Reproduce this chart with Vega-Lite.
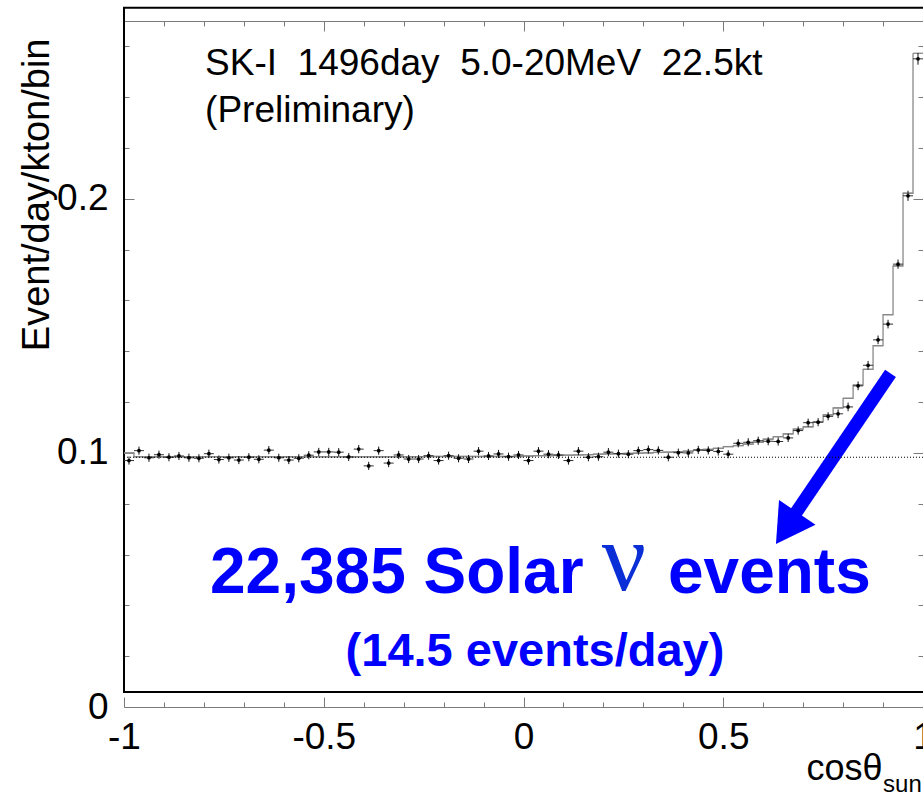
{
  "$schema": "https://vega.github.io/schema/vega-lite/v6.json",
  "width": 799,
  "height": 686,
  "autosize": {"type": "none"},
  "padding": {"left": 124, "top": 21, "right": 0, "bottom": 86},
  "background": "white",
  "config": {
    "view": {"stroke": null},
    "font": "Liberation Sans",
    "axis": {"grid": false, "labelFont": "Liberation Sans", "titleFont": "Liberation Sans", "labelOverlap": false, "labelBound": false, "labelFlush": false}
  },
  "data": {
    "values": [
      {"c": -0.9875, "lo": -1, "hi": -0.975, "rate": 0.0970, "err": 0.0016, "mc": 0.1000},
      {"c": -0.9625, "lo": -0.975, "hi": -0.95, "rate": 0.1009, "err": 0.0016, "mc": 0.0985},
      {"c": -0.9375, "lo": -0.95, "hi": -0.925, "rate": 0.0981, "err": 0.0016, "mc": 0.0985},
      {"c": -0.9125, "lo": -0.925, "hi": -0.9, "rate": 0.0993, "err": 0.0016, "mc": 0.0985},
      {"c": -0.8875, "lo": -0.9, "hi": -0.875, "rate": 0.0983, "err": 0.0016, "mc": 0.0985},
      {"c": -0.8625, "lo": -0.875, "hi": -0.85, "rate": 0.0988, "err": 0.0016, "mc": 0.0985},
      {"c": -0.8375, "lo": -0.85, "hi": -0.825, "rate": 0.0981, "err": 0.0016, "mc": 0.0985},
      {"c": -0.8125, "lo": -0.825, "hi": -0.8, "rate": 0.0979, "err": 0.0016, "mc": 0.0985},
      {"c": -0.7875, "lo": -0.8, "hi": -0.775, "rate": 0.0997, "err": 0.0016, "mc": 0.0985},
      {"c": -0.7625, "lo": -0.775, "hi": -0.75, "rate": 0.0974, "err": 0.0016, "mc": 0.0985},
      {"c": -0.7375, "lo": -0.75, "hi": -0.725, "rate": 0.0981, "err": 0.0016, "mc": 0.0985},
      {"c": -0.7125, "lo": -0.725, "hi": -0.7, "rate": 0.0972, "err": 0.0016, "mc": 0.0985},
      {"c": -0.6875, "lo": -0.7, "hi": -0.675, "rate": 0.0983, "err": 0.0016, "mc": 0.0985},
      {"c": -0.6625, "lo": -0.675, "hi": -0.65, "rate": 0.0975, "err": 0.0016, "mc": 0.0985},
      {"c": -0.6375, "lo": -0.65, "hi": -0.625, "rate": 0.1011, "err": 0.0016, "mc": 0.0985},
      {"c": -0.6125, "lo": -0.625, "hi": -0.6, "rate": 0.0981, "err": 0.0016, "mc": 0.0985},
      {"c": -0.5875, "lo": -0.6, "hi": -0.575, "rate": 0.0972, "err": 0.0016, "mc": 0.0985},
      {"c": -0.5625, "lo": -0.575, "hi": -0.55, "rate": 0.0979, "err": 0.0016, "mc": 0.0985},
      {"c": -0.5375, "lo": -0.55, "hi": -0.525, "rate": 0.0991, "err": 0.0016, "mc": 0.0985},
      {"c": -0.5125, "lo": -0.525, "hi": -0.5, "rate": 0.1004, "err": 0.0016, "mc": 0.0985},
      {"c": -0.4875, "lo": -0.5, "hi": -0.475, "rate": 0.1004, "err": 0.0016, "mc": 0.0985},
      {"c": -0.4625, "lo": -0.475, "hi": -0.45, "rate": 0.1003, "err": 0.0016, "mc": 0.0985},
      {"c": -0.4375, "lo": -0.45, "hi": -0.425, "rate": 0.0984, "err": 0.0016, "mc": 0.0985},
      {"c": -0.4125, "lo": -0.425, "hi": -0.4, "rate": 0.1015, "err": 0.0016, "mc": 0.0985},
      {"c": -0.3875, "lo": -0.4, "hi": -0.375, "rate": 0.0949, "err": 0.0016, "mc": 0.0985},
      {"c": -0.3625, "lo": -0.375, "hi": -0.35, "rate": 0.1009, "err": 0.0016, "mc": 0.0985},
      {"c": -0.3375, "lo": -0.35, "hi": -0.325, "rate": 0.0960, "err": 0.0016, "mc": 0.0985},
      {"c": -0.3125, "lo": -0.325, "hi": -0.3, "rate": 0.0992, "err": 0.0016, "mc": 0.0985},
      {"c": -0.2875, "lo": -0.3, "hi": -0.275, "rate": 0.0976, "err": 0.0016, "mc": 0.0985},
      {"c": -0.2625, "lo": -0.275, "hi": -0.25, "rate": 0.0976, "err": 0.0016, "mc": 0.0985},
      {"c": -0.2375, "lo": -0.25, "hi": -0.225, "rate": 0.0989, "err": 0.0016, "mc": 0.0986},
      {"c": -0.2125, "lo": -0.225, "hi": -0.2, "rate": 0.0970, "err": 0.0016, "mc": 0.0986},
      {"c": -0.1875, "lo": -0.2, "hi": -0.175, "rate": 0.0989, "err": 0.0016, "mc": 0.0986},
      {"c": -0.1625, "lo": -0.175, "hi": -0.15, "rate": 0.0979, "err": 0.0016, "mc": 0.0986},
      {"c": -0.1375, "lo": -0.15, "hi": -0.125, "rate": 0.0976, "err": 0.0016, "mc": 0.0986},
      {"c": -0.1125, "lo": -0.125, "hi": -0.1, "rate": 0.1007, "err": 0.0016, "mc": 0.0986},
      {"c": -0.0875, "lo": -0.1, "hi": -0.075, "rate": 0.0988, "err": 0.0016, "mc": 0.0986},
      {"c": -0.0625, "lo": -0.075, "hi": -0.05, "rate": 0.0996, "err": 0.0016, "mc": 0.0986},
      {"c": -0.0375, "lo": -0.05, "hi": -0.025, "rate": 0.0985, "err": 0.0016, "mc": 0.0986},
      {"c": -0.0125, "lo": -0.025, "hi": 0, "rate": 0.0992, "err": 0.0016, "mc": 0.0986},
      {"c": 0.0125, "lo": 0, "hi": 0.025, "rate": 0.0970, "err": 0.0016, "mc": 0.0988},
      {"c": 0.0375, "lo": 0.025, "hi": 0.05, "rate": 0.1007, "err": 0.0016, "mc": 0.0989},
      {"c": 0.0625, "lo": 0.05, "hi": 0.075, "rate": 0.0995, "err": 0.0016, "mc": 0.0989},
      {"c": 0.0875, "lo": 0.075, "hi": 0.1, "rate": 0.0992, "err": 0.0016, "mc": 0.0990},
      {"c": 0.1125, "lo": 0.1, "hi": 0.125, "rate": 0.0970, "err": 0.0016, "mc": 0.0991},
      {"c": 0.1375, "lo": 0.125, "hi": 0.15, "rate": 0.1007, "err": 0.0016, "mc": 0.0992},
      {"c": 0.1625, "lo": 0.15, "hi": 0.175, "rate": 0.0983, "err": 0.0016, "mc": 0.0993},
      {"c": 0.1875, "lo": 0.175, "hi": 0.2, "rate": 0.0985, "err": 0.0016, "mc": 0.0995},
      {"c": 0.2125, "lo": 0.2, "hi": 0.225, "rate": 0.1003, "err": 0.0016, "mc": 0.0996},
      {"c": 0.2375, "lo": 0.225, "hi": 0.25, "rate": 0.0997, "err": 0.0016, "mc": 0.0997},
      {"c": 0.2625, "lo": 0.25, "hi": 0.275, "rate": 0.0995, "err": 0.0016, "mc": 0.0998},
      {"c": 0.2875, "lo": 0.275, "hi": 0.3, "rate": 0.1009, "err": 0.0016, "mc": 0.0999},
      {"c": 0.3125, "lo": 0.3, "hi": 0.325, "rate": 0.1013, "err": 0.0016, "mc": 0.1000},
      {"c": 0.3375, "lo": 0.325, "hi": 0.35, "rate": 0.1010, "err": 0.0016, "mc": 0.1002},
      {"c": 0.3625, "lo": 0.35, "hi": 0.375, "rate": 0.0983, "err": 0.0016, "mc": 0.1003},
      {"c": 0.3875, "lo": 0.375, "hi": 0.4, "rate": 0.1001, "err": 0.0016, "mc": 0.1005},
      {"c": 0.4125, "lo": 0.4, "hi": 0.425, "rate": 0.1000, "err": 0.0016, "mc": 0.1007},
      {"c": 0.4375, "lo": 0.425, "hi": 0.45, "rate": 0.1012, "err": 0.0016, "mc": 0.1010},
      {"c": 0.4625, "lo": 0.45, "hi": 0.475, "rate": 0.1010, "err": 0.0016, "mc": 0.1014},
      {"c": 0.4875, "lo": 0.475, "hi": 0.5, "rate": 0.1006, "err": 0.0016, "mc": 0.1018},
      {"c": 0.5125, "lo": 0.5, "hi": 0.525, "rate": 0.0995, "err": 0.0016, "mc": 0.1025},
      {"c": 0.5375, "lo": 0.525, "hi": 0.55, "rate": 0.1038, "err": 0.0016, "mc": 0.1029},
      {"c": 0.5625, "lo": 0.55, "hi": 0.575, "rate": 0.1042, "err": 0.0016, "mc": 0.1035},
      {"c": 0.5875, "lo": 0.575, "hi": 0.6, "rate": 0.1048, "err": 0.0016, "mc": 0.1042},
      {"c": 0.6125, "lo": 0.6, "hi": 0.625, "rate": 0.1046, "err": 0.0016, "mc": 0.1054},
      {"c": 0.6375, "lo": 0.625, "hi": 0.65, "rate": 0.1045, "err": 0.0016, "mc": 0.1064},
      {"c": 0.6625, "lo": 0.65, "hi": 0.675, "rate": 0.1059, "err": 0.0016, "mc": 0.1075},
      {"c": 0.6875, "lo": 0.675, "hi": 0.7, "rate": 0.1088, "err": 0.0016, "mc": 0.1094},
      {"c": 0.7125, "lo": 0.7, "hi": 0.725, "rate": 0.1119, "err": 0.0016, "mc": 0.1103},
      {"c": 0.7375, "lo": 0.725, "hi": 0.75, "rate": 0.1121, "err": 0.0016, "mc": 0.1122},
      {"c": 0.7625, "lo": 0.75, "hi": 0.775, "rate": 0.1144, "err": 0.0016, "mc": 0.1150},
      {"c": 0.7875, "lo": 0.775, "hi": 0.8, "rate": 0.1154, "err": 0.0017, "mc": 0.1177},
      {"c": 0.8125, "lo": 0.8, "hi": 0.825, "rate": 0.1181, "err": 0.0017, "mc": 0.1215},
      {"c": 0.8375, "lo": 0.825, "hi": 0.85, "rate": 0.1264, "err": 0.0017, "mc": 0.1267},
      {"c": 0.8625, "lo": 0.85, "hi": 0.875, "rate": 0.1345, "err": 0.0017, "mc": 0.1329},
      {"c": 0.8875, "lo": 0.875, "hi": 0.9, "rate": 0.1445, "err": 0.0017, "mc": 0.1422},
      {"c": 0.9125, "lo": 0.9, "hi": 0.925, "rate": 0.1507, "err": 0.0017, "mc": 0.1544},
      {"c": 0.9375, "lo": 0.925, "hi": 0.95, "rate": 0.1743, "err": 0.0018, "mc": 0.1736},
      {"c": 0.9625, "lo": 0.95, "hi": 0.975, "rate": 0.2012, "err": 0.0020, "mc": 0.2022},
      {"c": 0.9875, "lo": 0.975, "hi": 1, "rate": 0.2551, "err": 0.0023, "mc": 0.2573}
    ]
  },
  "layer": [
    {
      "layer": [
        {
          "data": {"values": [{}]},
          "mark": {"type": "rect", "fill": "transparent", "stroke": "black", "strokeWidth": 2},
          "encoding": {
            "x": {
              "datum": -1, "type": "quantitative",
              "scale": {"domain": [-1, 1], "nice": false, "zero": false},
              "axis": {
                "orient": "bottom",
                "values": [-1, -0.5, 0, 0.5, 1],
                "domainColor": "#7a7a7a", "domainWidth": 1,
                "tickColor": "#7a7a7a", "tickWidth": 1, "tickSize": -10,
                "labelExpr": "toString(datum.value)",
                "labelFontSize": 37, "labelColor": "black", "labelPadding": 22,
                "labelFlush": false, "labelOverlap": false, "labelBound": false,
                "title": "cosθ", "titleFontSize": 36, "titleFontWeight": "normal", "titleColor": "black",
                "titleAlign": "right", "titleBaseline": "alphabetic", "titleAngle": 0, "titleX": 758, "titleY": 72
              }
            },
            "x2": {"datum": 1.05},
            "y": {
              "datum": 0.0059, "type": "quantitative",
              "scale": {"domain": [0, 0.27], "nice": false, "zero": false},
              "axis": {
                "orient": "left",
                "values": [0, 0.02, 0.04, 0.06, 0.08, 0.1, 0.12, 0.14, 0.16, 0.18, 0.2, 0.22, 0.24, 0.26],
                "domain": false,
                "tickColor": "#7a7a7a", "tickWidth": 1,
                "tickSize": {"condition": {"test": "abs(datum.value*10 - round(datum.value*10)) < 1e-9", "value": -10}, "value": -5},
                "labelExpr": "abs(datum.value*10 - round(datum.value*10)) < 1e-9 ? toString(datum.value) : ''",
                "labelFontSize": 37, "labelColor": "black", "labelPadding": 26,
                "labelOverlap": false, "labelBound": false, "labelFlush": false,
                "title": "Event/day/kton/bin", "titleFontSize": 38, "titleFontWeight": "normal", "titleColor": "black",
                "titleAngle": -90, "titleAlign": "right", "titleBaseline": "alphabetic", "titleX": -76, "titleY": 17
              }
            },
            "y2": {"datum": 0.2752}
          }
        },
        {
          "mark": {"type": "line", "interpolate": "step-after", "color": "#8a8a8a", "strokeWidth": 1.3},
          "encoding": {
            "x": {"field": "lo", "type": "quantitative", "title": "cosθ"},
            "y": {"field": "mc", "type": "quantitative", "title": "Event/day/kton/bin"}
          }
        },
        {
          "mark": {"type": "rule", "color": "#8a8a8a", "strokeWidth": 1.3},
          "encoding": {
            "x": {"field": "lo", "type": "quantitative", "title": "cosθ"},
            "x2": {"field": "hi"},
            "y": {"field": "mc", "type": "quantitative", "title": "Event/day/kton/bin"}
          }
        },
        {
          "mark": {"type": "rule", "color": "#333333", "strokeWidth": 1},
          "encoding": {
            "x": {"field": "lo", "type": "quantitative", "title": "cosθ"},
            "x2": {"field": "hi"},
            "y": {"field": "rate", "type": "quantitative", "title": "Event/day/kton/bin"}
          }
        },
        {
          "mark": {"type": "errorbar", "color": "#111111", "thickness": 1},
          "encoding": {
            "x": {"field": "c", "type": "quantitative", "title": "cosθ"},
            "y": {"field": "rate", "type": "quantitative", "title": "Event/day/kton/bin"},
            "yError": {"field": "err"}
          }
        },
        {
          "mark": {"type": "point", "filled": true, "color": "black", "size": 14, "opacity": 1},
          "encoding": {
            "x": {"field": "c", "type": "quantitative", "title": "cosθ"},
            "y": {"field": "rate", "type": "quantitative", "title": "Event/day/kton/bin"}
          }
        },
        {
          "data": {"values": [{}]},
          "mark": {"type": "text", "text": "SK-I\u00a0\u00a01496day\u00a0\u00a05.0-20MeV\u00a0\u00a022.5kt", "align": "left", "baseline": "alphabetic", "fontSize": 37, "color": "black"},
          "encoding": {
            "x": {"datum": -0.797, "type": "quantitative"},
            "y": {"datum": 0.2487, "type": "quantitative"}
          }
        },
        {
          "data": {"values": [{}]},
          "mark": {"type": "text", "text": "(Preliminary)", "align": "left", "baseline": "alphabetic", "fontSize": 37, "color": "black"},
          "encoding": {
            "x": {"datum": -0.797, "type": "quantitative"},
            "y": {"datum": 0.2302, "type": "quantitative"}
          }
        },
        {
          "data": {"values": [{}]},
          "mark": {"type": "rule", "color": "#0000ff", "strokeWidth": 13, "strokeCap": "butt"},
          "encoding": {
            "x": {"datum": 0.9186, "type": "quantitative"},
            "y": {"datum": 0.1313, "type": "quantitative"},
            "x2": {"datum": 0.6696},
            "y2": {"datum": 0.0736}
          }
        },
        {
          "data": {"values": [{}]},
          "mark": {"type": "point", "shape": "triangle-down", "filled": true, "color": "#0000ff", "opacity": 1, "size": 1936, "angle": 34},
          "encoding": {
            "x": {"datum": 0.6586, "type": "quantitative"},
            "y": {"datum": 0.0704, "type": "quantitative"}
          }
        },
        {
          "data": {"values": [{}]},
          "mark": {"type": "text", "text": "22,385 Solar", "align": "left", "baseline": "alphabetic", "fontSize": 64, "fontWeight": "bold", "color": "#0000ff"},
          "encoding": {
            "x": {"datum": -0.7847, "type": "quantitative"},
            "y": {"datum": 0.0449, "type": "quantitative"}
          }
        },
        {
          "data": {"values": [{}]},
          "mark": {"type": "text", "text": "ν", "align": "center", "baseline": "alphabetic", "font": "Liberation Serif", "fontSize": 98, "color": "#0a2fd6"},
          "encoding": {
            "x": {"datum": 0.2516, "type": "quantitative"},
            "y": {"datum": 0.046, "type": "quantitative"}
          }
        },
        {
          "data": {"values": [{}]},
          "mark": {"type": "text", "text": "events", "align": "left", "baseline": "alphabetic", "fontSize": 64, "fontWeight": "bold", "color": "#0000ff"},
          "encoding": {
            "x": {"datum": 0.3617, "type": "quantitative"},
            "y": {"datum": 0.0449, "type": "quantitative"}
          }
        },
        {
          "data": {"values": [{}]},
          "mark": {"type": "text", "text": "(14.5 events/day)", "align": "center", "baseline": "alphabetic", "fontSize": 47, "fontWeight": "bold", "color": "#0000ff"},
          "encoding": {
            "x": {"datum": 0.0288, "type": "quantitative"},
            "y": {"datum": 0.0161, "type": "quantitative"}
          }
        },
        {
          "data": {"values": [{}]},
          "mark": {"type": "text", "text": "sun", "align": "left", "baseline": "alphabetic", "fontSize": 24, "color": "black"},
          "encoding": {
            "x": {"datum": 0.9, "type": "quantitative"},
            "y": {"datum": -0.0335, "type": "quantitative"}
          }
        }
      ]
    },
    {
      "data": {"values": [{}]},
      "mark": {"type": "rule", "color": "black", "strokeDash": [1, 2], "strokeWidth": 1},
      "encoding": {
        "x": {
          "datum": -1, "type": "quantitative",
          "scale": {"domain": [-1, 1], "nice": false, "zero": false},
          "axis": {
            "orient": "top",
            "values": [-1, -0.9, -0.8, -0.7, -0.6, -0.5, -0.4, -0.3, -0.2, -0.1, 0, 0.1, 0.2, 0.3, 0.4, 0.5, 0.6, 0.7, 0.8, 0.9, 1],
            "domainColor": "#7a7a7a", "domainWidth": 1,
            "tickColor": "#7a7a7a", "tickWidth": 1,
            "tickSize": {"condition": {"test": "abs(datum.value*2 - round(datum.value*2)) < 1e-9", "value": -10}, "value": -5},
            "labels": false, "title": null
          }
        },
        "x2": {"datum": 1},
        "y": {
          "datum": 0.0983, "type": "quantitative",
          "scale": {"domain": [0, 0.27], "nice": false, "zero": false},
          "axis": {
            "orient": "right",
            "values": [0, 0.02, 0.04, 0.06, 0.08, 0.1, 0.12, 0.14, 0.16, 0.18, 0.2, 0.22, 0.24, 0.26],
            "domain": false,
            "tickColor": "#7a7a7a", "tickWidth": 1,
            "tickSize": {"condition": {"test": "abs(datum.value*10 - round(datum.value*10)) < 1e-9", "value": -10}, "value": -5},
            "labels": false, "title": null
          }
        }
      }
    },
    {
      "data": {"values": [{}]},
      "mark": {"type": "rule", "strokeOpacity": 0},
      "encoding": {
        "x": {
          "datum": -1, "type": "quantitative",
          "scale": {"domain": [-1, 1], "nice": false, "zero": false},
          "axis": {
            "orient": "bottom", "offset": 0,
            "values": [-0.9, -0.8, -0.7, -0.6, -0.4, -0.3, -0.2, -0.1, 0.1, 0.2, 0.3, 0.4, 0.6, 0.7, 0.8, 0.9],
            "domain": false,
            "tickColor": "#7a7a7a", "tickWidth": 1, "tickSize": -5,
            "labels": false, "title": null
          }
        },
        "x2": {"datum": 1},
        "y": {
          "datum": 0.0983, "type": "quantitative",
          "scale": {"domain": [0, 0.27], "nice": false, "zero": false},
          "axis": null
        }
      }
    }
  ],
  "resolve": {"axis": {"x": "independent", "y": "independent"}}
}
